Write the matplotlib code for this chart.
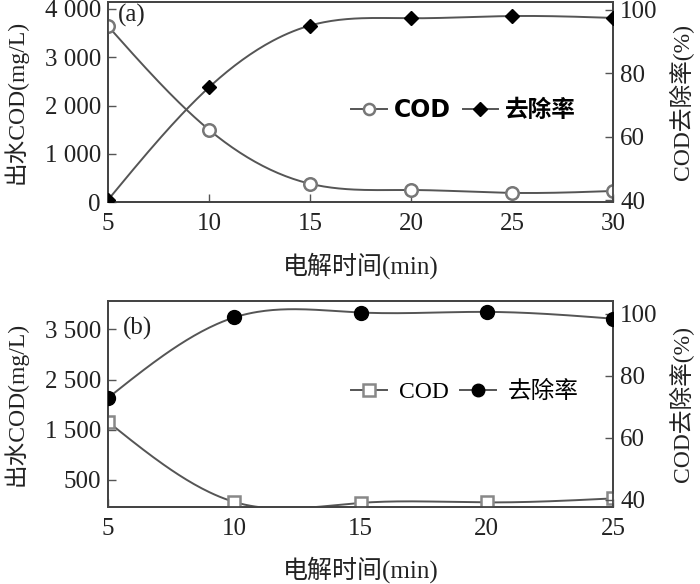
import numpy as np
import matplotlib
matplotlib.use("Agg")
import matplotlib.pyplot as plt

plt.rcParams['font.family'] = ['Liberation Serif', 'Noto Sans CJK SC', 'DejaVu Sans']

# ---- data ----
time_a = [5, 10, 15, 20, 25, 30]
cod_a = [3650, 1500, 380, 250, 190, 230]
rem_a = [40.0, 75.5, 95.0, 97.3, 98.0, 97.4]

time_b = [5, 10, 15, 20, 25]
cod_b = [1660, 60, 40, 50, 130]
rem_b = [72.8, 98.8, 100.4, 100.6, 98.4]

xticks_a = [5, 10, 15, 20, 25, 30]
xticks_b = [5, 10, 15, 20, 25]
yticks_a = [0, 1000, 2000, 3000, 4000]
ylabels_a = ['0', '1 000', '2 000', '3 000', '4 000']
yticks_b = [500, 1500, 2500, 3500]
ylabels_b = ['500', '1 500', '2 500', '3 500']
rticks = [40, 60, 80, 100]

xlabel = '电解时间(min)'
ylabel_l = '出水COD(mg/L)'
ylabel_r = 'COD去除率(%)'
leg_cod = 'COD'
leg_rem = '去除率'


def spline(x, y, n=200):
    """natural cubic spline for drawing a smooth line through the points"""
    x = np.asarray(x, float); y = np.asarray(y, float)
    m = len(x); h = np.diff(x)
    A = np.zeros((m, m)); b = np.zeros(m)
    A[0, 0] = A[-1, -1] = 1
    for i in range(1, m - 1):
        A[i, i - 1] = h[i - 1]; A[i, i] = 2 * (h[i - 1] + h[i]); A[i, i + 1] = h[i]
        b[i] = 6 * ((y[i + 1] - y[i]) / h[i] - (y[i] - y[i - 1]) / h[i - 1])
    M = np.linalg.solve(A, b)
    xs = np.linspace(x[0], x[-1], n)
    idx = np.clip(np.searchsorted(x, xs) - 1, 0, m - 2)
    x0 = x[idx]; x1 = x[idx + 1]; hh = x1 - x0
    ys = (M[idx] * (x1 - xs) ** 3 / (6 * hh) + M[idx + 1] * (xs - x0) ** 3 / (6 * hh)
          + (y[idx] / hh - M[idx] * hh / 6) * (x1 - xs)
          + (y[idx + 1] / hh - M[idx + 1] * hh / 6) * (xs - x0))
    return xs, ys


fig = plt.figure(figsize=(7.0, 5.84), dpi=100)
TC = '#222222'
LC = '#555555'
FS = 18
LFS = 17

def style(ax):
    for s in ax.spines.values():
        s.set_color('#444444'); s.set_linewidth(1.3)
    ax.tick_params(direction='in', length=6, width=1, colors='#555555',
                   labelsize=FS, labelcolor=TC, pad=5)
    ax.tick_params(axis='x', pad=8)

def labels(axl, axr):
    axl.set_ylabel(ylabel_l, fontsize=LFS, color=TC)
    axr.set_ylabel(ylabel_r, fontsize=LFS, color=TC)
    axl.yaxis.set_label_coords(-0.158, 0.5)
    axr.yaxis.set_label_coords(1.110, 0.5)

# ---------- panel (a) ----------
ax1 = fig.add_axes([0.154, 0.654, 0.722, 0.343])
ax2 = ax1.twinx()
xs, ys = spline(time_a, cod_a)
ax1.plot(xs, ys, color=LC, lw=1.4, zorder=2)
ax1.plot(time_a, cod_a, ls='none', marker='o', ms=9, mfc='white', mec='#777777',
         mew=1.8, zorder=3)
xs, ys = spline(time_a, rem_a)
ax2.plot(xs, ys, color=LC, lw=1.4, zorder=2)
ax2.plot(time_a, rem_a, ls='none', marker='D', ms=7, color='black', zorder=3)
ax1.set_xlim(5, 30)
ax1.set_ylim(0, 4150)
ax2.set_ylim(39.4, 102.5)
ax1.set_xticks(xticks_a)
ax1.set_yticks(yticks_a, ylabels_a)
ax2.set_yticks(rticks)
for a in (ax1, ax2):
    style(a)
ax1.set_xlabel(xlabel, fontsize=FS, color=TC, labelpad=12)
labels(ax1, ax2)
ax1.text(0.02, 0.90, '(a)', transform=ax1.transAxes, fontsize=FS, color=TC)
h1 = [plt.Line2D([], [], color=LC, lw=1.4, marker='o', ms=8, mfc='white', mec='#777777', mew=1.8),
      plt.Line2D([], [], color=LC, lw=1.4, marker='D', ms=7, mfc='black', mec='black')]
ax1.legend(h1, [leg_cod, leg_rem], loc='center left', bbox_to_anchor=(0.44, 0.46),
           ncol=2, frameon=False, handlelength=1.5, handletextpad=0.3,
           columnspacing=0.5, prop={'family': ['DejaVu Sans', 'Noto Sans CJK SC'], 'size': 17,
                                     'weight': 'bold'})

# ---------- panel (b) ----------
ax3 = fig.add_axes([0.154, 0.132, 0.722, 0.352])
ax4 = ax3.twinx()
xs, ys = spline(time_b, cod_b)
ax3.plot(xs, ys, color=LC, lw=1.4, zorder=2)
ax3.plot(time_b, cod_b, ls='none', marker='s', ms=9, mfc='white', mec='#888888',
         mew=1.8, zorder=3)
xs, ys = spline(time_b, rem_b)
ax4.plot(xs, ys, color=LC, lw=1.4, zorder=2)
ax4.plot(time_b, rem_b, ls='none', marker='o', ms=10, color='black', zorder=3)
ax3.set_xlim(5, 25)
ax3.set_ylim(-40, 4060)
ax4.set_ylim(37.7, 104)
ax3.set_xticks(xticks_b)
ax3.set_yticks(yticks_b, ylabels_b)
ax4.set_yticks(rticks)
for a in (ax3, ax4):
    style(a)
ax3.set_xlabel(xlabel, fontsize=FS, color=TC, labelpad=12)
labels(ax3, ax4)
ax3.text(0.03, 0.84, '(b)', transform=ax3.transAxes, fontsize=FS, color=TC)
h2 = [plt.Line2D([], [], color=LC, lw=1.4, marker='s', ms=8, mfc='white', mec='#888888', mew=1.8),
      plt.Line2D([], [], color=LC, lw=1.4, marker='o', ms=9, mfc='black', mec='black')]
ax3.legend(h2, [leg_cod, leg_rem], loc='center left', bbox_to_anchor=(0.44, 0.56),
           ncol=2, frameon=False, fontsize=17, handlelength=1.5, handletextpad=0.5,
           columnspacing=0.5)

fig.savefig('out.png', dpi=100)
